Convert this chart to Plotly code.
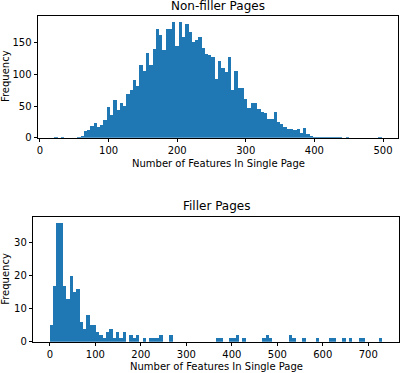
import plotly.graph_objects as go

# ---------------- data ----------------
# Non-filler pages: 100 bins from 21 to 498
nonfiller_min = 21.0
nonfiller_max = 498.0
nonfiller_counts = [
    2, 0, 2, 0, 0, 0, 0, 2, 4, 12,
    13, 19, 24, 17, 21, 28, 50, 36, 60, 44,
    56, 51, 70, 77, 92, 83, 116, 106, 134, 116,
    141, 172, 163, 139, 172, 172, 184, 145, 183, 160,
    181, 168, 152, 155, 160, 143, 133, 132, 129, 93,
    122, 111, 105, 128, 76, 107, 80, 80, 62, 48,
    56, 56, 46, 41, 40, 31, 30, 41, 25, 22,
    18, 15, 14, 13, 14, 9, 16, 7, 3, 2,
    2, 1, 2, 1, 1, 2, 1, 1, 0, 1,
    0, 0, 0, 0, 0, 0, 0, 0, 0, 1,
]

# Filler pages: 100 bins from 0 to 731
filler_min = 0.0
filler_max = 731.0
filler_counts = [
    5, 17, 36, 36, 17, 13, 20, 15, 16, 6,
    4, 8, 5, 5, 3, 2, 1, 3, 4, 1,
    3, 1, 3, 0, 2, 1, 2, 0, 1, 0,
    1, 1, 1, 2, 0, 0, 2, 0, 0, 0,
    0, 0, 0, 0, 0, 0, 0, 0, 0, 0,
    1, 1, 0, 0, 1, 1, 2, 0, 1, 0,
    0, 0, 0, 0, 1, 2, 1, 0, 0, 0,
    0, 0, 2, 1, 0, 0, 1, 0, 0, 0,
    1, 0, 0, 0, 1, 1, 0, 0, 1, 0,
    1, 0, 0, 1, 1, 0, 0, 0, 0, 1,
]

titles = ["Non-filler Pages", "Filler Pages"]
x_label = "Number of Features In Single Page"
y_label = "Frequency"
top_xticks = [0, 100, 200, 300, 400, 500]
top_yticks = [0, 50, 100, 150]
bot_xticks = [0, 100, 200, 300, 400, 500, 600, 700]
bot_yticks = [0, 10, 20, 30]

# ---------------- figure ----------------
W, H = 400, 373
BLUE = "#1f77b4"
FONT = "DejaVu Sans"


def centers(lo, hi, n):
    w = (hi - lo) / n
    return [lo + w * (i + 0.5) for i in range(n)], w


fig = go.Figure()

xc1, w1 = centers(nonfiller_min, nonfiller_max, len(nonfiller_counts))
xc2, w2 = centers(filler_min, filler_max, len(filler_counts))

fig.add_trace(go.Bar(x=xc1, y=nonfiller_counts, width=w1, marker=dict(color=BLUE, line=dict(width=0)),
                     xaxis="x", yaxis="y", showlegend=False))
fig.add_trace(go.Bar(x=xc2, y=filler_counts, width=w2, marker=dict(color=BLUE, line=dict(width=0)),
                     xaxis="x2", yaxis="y2", showlegend=False))


def px_x(p):
    return p / W


def px_y(p):
    return 1 - p / H


top_box = (38, 398, 15.5, 137.7)
bot_box = (33.3, 399, 217, 341.7)


def xr(lo, hi):
    r = hi - lo
    return [lo - 0.05 * r, hi + 0.05 * r]


axis_common = dict(showline=True, linecolor="black", linewidth=1, mirror=True,
                   ticks="outside", ticklen=3.5, tickwidth=0.8, tickcolor="black",
                   showgrid=False, zeroline=False, automargin=False,
                   tickfont=dict(family=FONT, size=10, color="black"))

fig.update_layout(
    width=W, height=H,
    margin=dict(l=0, r=0, t=0, b=0),
    paper_bgcolor="white", plot_bgcolor="white",
    bargap=0,
    font=dict(family=FONT, size=10, color="black"),
    xaxis=dict(domain=[px_x(top_box[0]), px_x(top_box[1])], range=xr(nonfiller_min, nonfiller_max),
               tickvals=top_xticks, anchor="y", **axis_common),
    yaxis=dict(domain=[px_y(top_box[3]), px_y(top_box[2])], range=[0, max(nonfiller_counts) * 1.05],
               tickvals=top_yticks, anchor="x", **axis_common),
    xaxis2=dict(domain=[px_x(bot_box[0]), px_x(bot_box[1])], range=xr(filler_min, filler_max),
                tickvals=bot_xticks, anchor="y2", **axis_common),
    yaxis2=dict(domain=[px_y(bot_box[3]), px_y(bot_box[2])], range=[0, max(filler_counts) * 1.05],
                tickvals=bot_yticks, anchor="x2", **axis_common),
)

annots = []
for box, title, title_y, xl_y in [(top_box, titles[0], 5.5, 163.2), (bot_box, titles[1], 206.4, 366.5)]:
    cx = (box[0] + box[1]) / 2
    cy = (box[2] + box[3]) / 2
    annots.append(dict(text=title, x=px_x(cx), y=px_y(title_y), xref="paper", yref="paper",
                       xanchor="center", yanchor="middle", showarrow=False, borderpad=0,
                       font=dict(family=FONT, size=12, color="black")))
    annots.append(dict(text=x_label, x=px_x(cx), y=px_y(xl_y), xref="paper", yref="paper",
                       xanchor="center", yanchor="middle", showarrow=False,
                       font=dict(family=FONT, size=10, color="black")))
    annots.append(dict(text=y_label, x=px_x(5.5), y=px_y(cy), xref="paper", yref="paper",
                       xanchor="center", yanchor="middle", showarrow=False, textangle=-90,
                       font=dict(family=FONT, size=10, color="black")))
fig.update_layout(annotations=annots)

fig.write_html(
    "out.html",
    config={"displayModeBar": False},
    post_script="document.body.style.margin='0px';document.body.style.padding='0px';"
                "document.body.style.overflow='hidden';",
)
